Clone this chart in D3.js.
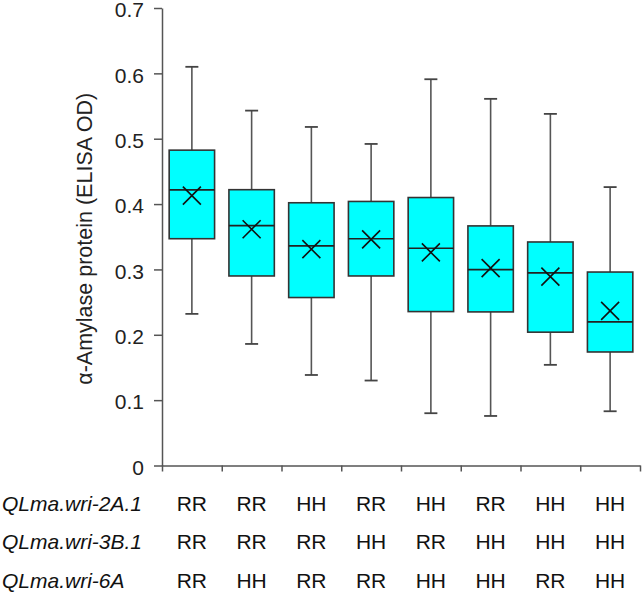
<!DOCTYPE html>
<html><head><meta charset="utf-8">
<script src="https://cdn.jsdelivr.net/npm/d3@7"></script>
<style>body{margin:0;background:#fff}svg{display:block}text{font-family:"Liberation Sans",Arial,sans-serif}</style>
</head><body><svg id="c" width="643" height="596"></svg>
<script>
const groups = ["G1","G2","G3","G4","G5","G6","G7","G8"];
const whiskerHigh = [0.610,0.543,0.518,0.492,0.591,0.561,0.538,0.426];
const q3 = [0.4825,0.422,0.402,0.404,0.410,0.3666,0.342,0.296];
const median = [0.4217,0.367,0.336,0.347,0.3325,0.2997,0.2947,0.2197];
const mean = [0.413,0.3615,0.331,0.346,0.326,0.302,0.289,0.2365];
const q1 = [0.347,0.290,0.257,0.290,0.2355,0.235,0.204,0.1737];
const whiskerLow = [0.232,0.186,0.1385,0.130,0.080,0.0758,0.154,0.083];
const yTicks = [0,0.1,0.2,0.3,0.4,0.5,0.6,0.7];
const rowLabels = ["QLma.wri-2A.1","QLma.wri-3B.1","QLma.wri-6A"];
const genotypes = [
  ["RR","RR","HH","RR","HH","RR","HH","HH"],
  ["RR","RR","RR","HH","RR","HH","HH","HH"],
  ["RR","HH","RR","RR","HH","HH","RR","HH"]
];
const yTitle = "\u03B1-Amylase protein (ELISA OD)";

const svg = d3.select("#c");
const L = 162, R = 640, T = 8, B = 465.5;
const x = d3.scaleBand().domain(groups).range([L, R]).padding(0);
const xb = d3.scaleLinear().domain([0, groups.length]).range([L, R]);
const y = d3.scaleLinear().domain([0, 0.7]).range([B, T]);
const bw = x.bandwidth() * 0.76;
const cap = 13;
const axisColor = "#555";

// y axis
const ya = svg.append("g").attr("transform", `translate(${L},0)`)
  .call(d3.axisLeft(y).tickValues(yTicks).tickSize(8).tickSizeOuter(0)
    .tickFormat(d => d === 0 ? "0" : d3.format(".1f")(d)));
ya.select(".domain").attr("stroke", axisColor).attr("stroke-width", 1.5);
ya.selectAll(".tick line").attr("stroke", axisColor).attr("stroke-width", 1.5);
ya.selectAll(".tick text").attr("font-size", 21).attr("fill", "#222")
  .attr("x", -18).attr("dy", "0.42em").attr("font-family", '"Liberation Sans",Arial,sans-serif');

// x axis
const xa = svg.append("g").attr("transform", `translate(0,${B})`)
  .call(d3.axisBottom(xb).tickValues(d3.range(groups.length + 1)).tickSize(6).tickSizeOuter(0).tickFormat(""));
xa.select(".domain").attr("stroke", axisColor).attr("stroke-width", 1.5);
xa.selectAll(".tick line").attr("stroke", axisColor).attr("stroke-width", 1.5);

// y title
svg.append("text")
  .attr("transform", `translate(92,${(T + B) / 2 + 2}) rotate(-90)`)
  .attr("text-anchor", "middle").attr("font-size", 21.5).attr("fill", "#222")
  .text(yTitle);

// boxes
const g = svg.append("g");
groups.forEach((k, i) => {
  const cx = x(k) + x.bandwidth() / 2;
  const gg = g.append("g");
  gg.append("line").attr("x1", cx).attr("x2", cx).attr("y1", y(whiskerHigh[i])).attr("y2", y(q3[i]))
    .attr("stroke", "#555").attr("stroke-width", 1.6);
  gg.append("line").attr("x1", cx).attr("x2", cx).attr("y1", y(q1[i])).attr("y2", y(whiskerLow[i]))
    .attr("stroke", "#555").attr("stroke-width", 1.6);
  gg.append("line").attr("x1", cx - cap / 2).attr("x2", cx + cap / 2).attr("y1", y(whiskerHigh[i])).attr("y2", y(whiskerHigh[i]))
    .attr("stroke", "#444").attr("stroke-width", 1.8);
  gg.append("line").attr("x1", cx - cap / 2).attr("x2", cx + cap / 2).attr("y1", y(whiskerLow[i])).attr("y2", y(whiskerLow[i]))
    .attr("stroke", "#444").attr("stroke-width", 1.8);
  gg.append("rect").attr("x", cx - bw / 2).attr("y", y(q3[i])).attr("width", bw).attr("height", y(q1[i]) - y(q3[i]))
    .attr("fill", "#00FFFF").attr("stroke", "#333").attr("stroke-width", 1.6);
  gg.append("line").attr("x1", cx - bw / 2).attr("x2", cx + bw / 2).attr("y1", y(median[i])).attr("y2", y(median[i]))
    .attr("stroke", "#222").attr("stroke-width", 1.6);
  const s = 9, my = y(mean[i]);
  gg.append("path").attr("d", `M${cx - s},${my - s}L${cx + s},${my + s}M${cx - s},${my + s}L${cx + s},${my - s}`)
    .attr("stroke", "#111").attr("stroke-width", 1.6).attr("fill", "none");
});

// genotype table
const rowY = [511, 549.3, 587.7];
rowLabels.forEach((lab, r) => {
  svg.append("text").attr("x", 2).attr("y", rowY[r]).attr("font-size", 21).attr("font-style", "italic")
    .attr("fill", "#111").text(lab);
  genotypes[r].forEach((gt, i) => {
    svg.append("text").attr("x", x(groups[i]) + x.bandwidth() / 2).attr("y", rowY[r])
      .attr("text-anchor", "middle").attr("font-size", 21).attr("fill", "#111").text(gt);
  });
});
</script></body></html>
